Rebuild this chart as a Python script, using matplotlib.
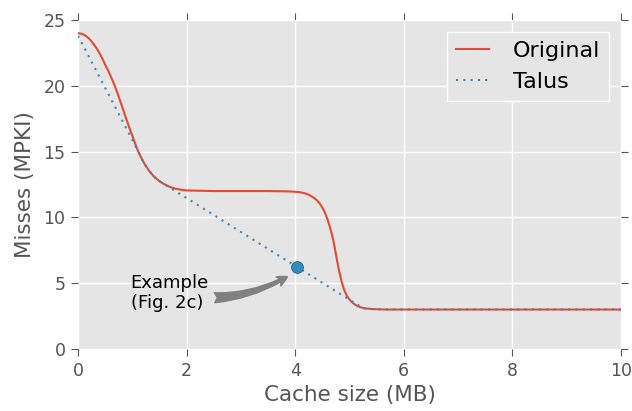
import matplotlib
matplotlib.use("Agg")
import matplotlib.pyplot as plt

# ---- data ----
orig_x = [0.00, 0.05, 0.10, 0.15, 0.20, 0.25, 0.30, 0.35, 0.40, 0.45, 0.50,
          0.55, 0.60, 0.65, 0.70, 0.75, 0.80, 0.85, 0.90, 0.95, 1.00, 1.05,
          1.10, 1.15, 1.20, 1.25, 1.30, 1.35, 1.40, 1.45, 1.50, 1.55, 1.60,
          1.70, 1.80, 1.90, 2.00, 2.50, 3.00, 3.50, 3.80, 3.90, 4.00, 4.05,
          4.10, 4.15, 4.20, 4.25, 4.30, 4.35, 4.40, 4.45, 4.50, 4.55, 4.60,
          4.65, 4.70, 4.75, 4.80, 4.85, 4.90, 4.95, 5.00, 5.05, 5.10, 5.15,
          5.20, 5.25, 5.30, 5.40, 5.50, 5.70, 6.00, 8.00, 10.00]
orig_y = [24.0, 23.97, 23.9, 23.77, 23.6, 23.37, 23.1, 22.8, 22.45, 22.05, 21.6,
          21.2, 20.75, 20.27, 19.75, 19.17, 18.57, 17.95, 17.35, 16.77, 16.2, 15.63,
          15.1, 14.65, 14.25, 13.9, 13.6, 13.33, 13.1, 12.92, 12.75, 12.62, 12.5,
          12.3, 12.18, 12.1, 12.05, 12.0, 12.0, 12.0, 11.98, 11.97, 11.95, 11.93,
          11.9, 11.86, 11.8, 11.72, 11.6, 11.47, 11.3, 11.07, 10.75, 10.35, 9.8,
          9.1, 8.3, 7.2, 6.1, 5.2, 4.5, 4.05, 3.75, 3.53, 3.38, 3.26,
          3.18, 3.12, 3.08, 3.04, 3.02, 3.0, 3.0, 3.0, 3.0]

talus_x = [0.0, 1.1, 1.15, 1.2, 1.25, 1.3, 1.35, 1.4, 1.45, 1.5, 1.55, 1.6,
           5.25, 5.3, 5.4, 5.5, 5.7, 10.0]
talus_y = [23.8, 15.1, 14.65, 14.25, 13.9, 13.6, 13.33, 13.1, 12.92, 12.75,
           12.62, 12.5, 3.1, 3.08, 3.04, 3.02, 3.0, 3.0]

example_x = [4.03]
example_y = [6.2]

x_ticks = [0, 2, 4, 6, 8, 10]
y_ticks = [0, 5, 10, 15, 20, 25]

RED = "#E24A33"
BLUE = "#348ABD"
GRAYTXT = "#555555"

fig = plt.figure(figsize=(6.32, 4.11), dpi=100)
ax = fig.add_axes([78 / 632, 1 - 349 / 411, (621 - 78) / 632, (349 - 20) / 411])
ax.set_facecolor("#E5E5E5")
for s in ax.spines.values():
    s.set_visible(False)
ax.grid(True, color="white", linewidth=1.0)
ax.set_axisbelow(True)

ax.plot(orig_x, orig_y, color=RED, lw=1.5, label="Original", zorder=3)
ax.plot(talus_x, talus_y, color=BLUE, lw=1.5, linestyle=(0, (1, 2.5)),
        label="Talus", zorder=4)
ax.plot(example_x, example_y, "o", color=BLUE, markersize=8.5,
        markeredgecolor="#1f4f70", markeredgewidth=0.5, zorder=5)

ax.annotate("Example\n(Fig. 2c)", xy=(3.9, 5.6), xytext=(0.97, 4.25),
            ha="left", va="center", fontsize=13, color="black",
            arrowprops=dict(arrowstyle="fancy", color="gray",
                            connectionstyle="arc3,rad=0.2",
                            mutation_scale=18, shrinkA=2, shrinkB=2))

ax.set_xlim(0, 10)
ax.set_ylim(0, 25)
ax.set_xticks(x_ticks)
ax.set_yticks(y_ticks)
ax.tick_params(direction="out", length=5, color=GRAYTXT, labelcolor=GRAYTXT,
               labelsize=12.5, top=True, right=True, pad=4)
ax.set_xlabel("Cache size (MB)", fontsize=15.5, color=GRAYTXT, labelpad=4)
ax.set_ylabel("Misses (MPKI)", fontsize=15.5, color=GRAYTXT, labelpad=6)

leg = ax.legend(loc="upper right", fontsize=16, frameon=True, fancybox=False,
                handlelength=1.5, handletextpad=1.05, borderaxespad=0.55,
                labelspacing=0.5)
leg.get_frame().set_facecolor("#E5E5E5")
leg.get_frame().set_edgecolor("white")
leg.get_frame().set_linewidth(1.0)
leg.get_frame().set_alpha(1.0)

fig.savefig("out.png", dpi=100)
